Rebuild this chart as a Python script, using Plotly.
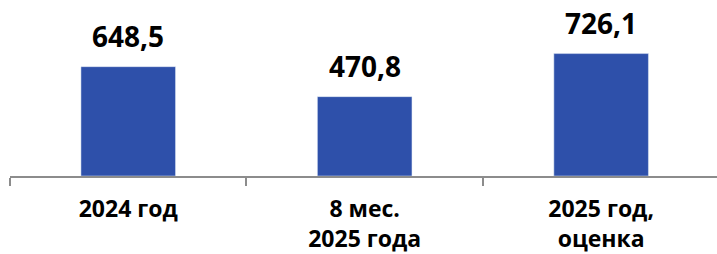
import plotly.graph_objects as go

categories = ["2024 год", "8 мес.<br>2025 года", "2025 год,<br>оценка"]
values = [648.5, 470.8, 726.1]
value_labels = [f"{v:.1f}".replace(".", ",") for v in values]

bar_color = "#2E50AA"
axis_color = "#8C8C8C"
font_family = "Open Sans"

fig = go.Figure()
fig.add_trace(go.Bar(
    x=categories, y=values, marker_color=bar_color, width=0.40,
    hoverinfo="skip",
))

for c, v, t in zip(categories, values, value_labels):
    fig.add_annotation(x=c, y=v, text=f"<b>{t}</b>", showarrow=False,
                       yanchor="bottom", yshift=11, borderpad=0,
                       font=dict(family=font_family, size=28, color="#000000"))

fig.update_layout(
    width=717, height=254,
    margin=dict(l=10, r=0, t=0, b=78),
    plot_bgcolor="white", paper_bgcolor="white",
    showlegend=False,
    font=dict(family=font_family, size=23, color="#000000"),
    bargap=0.6,
)
fig.update_xaxes(
    type="category", range=[-0.5, 2.49],
    showline=True, linecolor=axis_color, linewidth=2,
    ticks="outside", tickson="boundaries", ticklen=8, tickwidth=2, tickcolor=axis_color,
    showgrid=False, tickfont=dict(family=font_family, size=23, color="#000000", weight="bold"),
    ticklabelstandoff=11,
)
fig.update_yaxes(range=[0, 1044], visible=False, showgrid=False)

fig.write_html("out.html", config={"displayModeBar": False},
               post_script="document.body.style.margin='0px';")
